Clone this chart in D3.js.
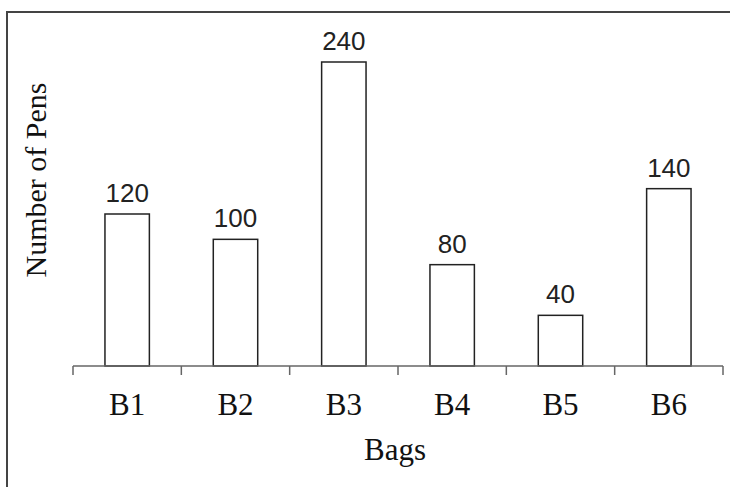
<!DOCTYPE html>
<html><head><meta charset="utf-8">
<script src="https://cdn.jsdelivr.net/npm/d3@7"></script>
<style>html,body{margin:0;padding:0;background:#fff;}svg{display:block;}</style>
</head><body>
<script>
const categories = ["B1","B2","B3","B4","B5","B6"];
const values = [120,100,240,80,40,140];
const xTitle = "Bags";
const yTitle = "Number of Pens";

const W = 730, H = 487;
const svg = d3.select("body").append("svg").attr("width", W).attr("height", H);
svg.append("rect").attr("width", W).attr("height", H).attr("fill", "#fff");

// outer frame (extends beyond right/bottom edges)
svg.append("rect").attr("x", 7).attr("y", 12).attr("width", 760).attr("height", 520)
  .attr("fill", "none").attr("stroke", "#444").attr("stroke-width", 2);

const x = d3.scaleBand().domain(categories).range([73, 723]).paddingInner(0.59).paddingOuter(0.295);
const y = d3.scaleLinear().domain([0, 240]).range([366, 62]);

svg.selectAll("rect.bar").data(values).enter().append("rect")
  .attr("class", "bar")
  .attr("x", (d, i) => x(categories[i]))
  .attr("y", d => y(d))
  .attr("width", x.bandwidth())
  .attr("height", d => y(0) - y(d))
  .attr("fill", "#fff").attr("stroke", "#222").attr("stroke-width", 1.5);

// axis line with tick marks at band boundaries
const xb = d3.scaleBand().domain(categories).range([73, 723]);
const ax = svg.append("g").attr("transform", `translate(0,${y(0)})`);
ax.append("line").attr("x1", 73).attr("x2", 723).attr("stroke", "#666").attr("stroke-width", 1.5);
const bounds = categories.map(c => xb(c)).concat([723]);
ax.selectAll("line.tk").data(bounds).enter().append("line")
  .attr("x1", d => d).attr("x2", d => d).attr("y1", 0).attr("y2", 9)
  .attr("stroke", "#666").attr("stroke-width", 1.5);

svg.selectAll("text.cat").data(categories).enter().append("text")
  .attr("x", d => xb(d) + xb.bandwidth() / 2).attr("y", 415)
  .attr("text-anchor", "middle")
  .attr("font-family", "Liberation Serif, Times New Roman, serif").attr("font-size", 31)
  .attr("fill", "#111").text(d => d);

svg.selectAll("text.val").data(values).enter().append("text")
  .attr("x", (d, i) => x(categories[i]) + x.bandwidth() / 2).attr("y", d => y(d) - 12)
  .attr("text-anchor", "middle")
  .attr("font-family", "Liberation Sans, Arial, sans-serif").attr("font-size", 26)
  .attr("fill", "#222").text(d => d);

svg.append("text").attr("x", 395).attr("y", 460).attr("text-anchor", "middle")
  .attr("font-family", "Liberation Serif, Times New Roman, serif").attr("font-size", 31)
  .attr("fill", "#111").text(xTitle);

svg.append("text").attr("transform", "translate(46,180) rotate(-90)").attr("text-anchor", "middle")
  .attr("font-family", "Liberation Serif, Times New Roman, serif").attr("font-size", 30)
  .attr("fill", "#111").text(yTitle);
</script>
</body></html>
